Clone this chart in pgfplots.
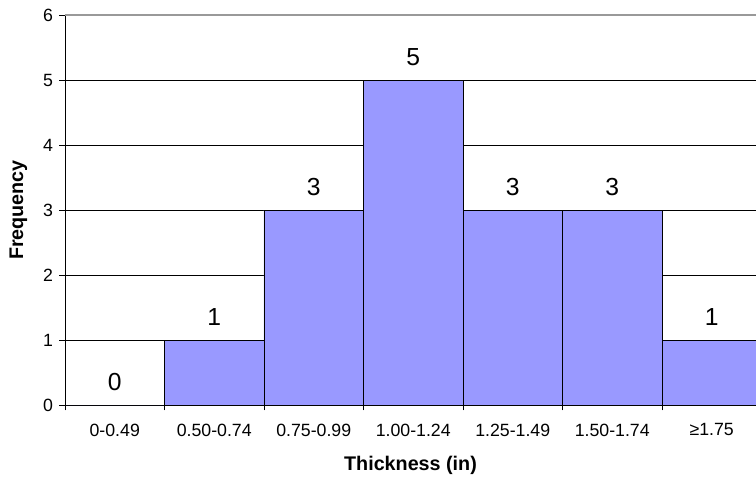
\documentclass[border=0pt]{standalone}
\usepackage{pgfplots}
\pgfplotsset{compat=1.18}
\usepackage{fontspec}
\setmainfont{Liberation Sans}
\definecolor{barblue}{HTML}{9999FF}
\begin{document}
\begin{tikzpicture}
\useasboundingbox (-48.75pt,-55.5pt) rectangle (518.25pt,303.75pt);
\begin{axis}[
    at={(0,0)}, anchor=origin,
    scale only axis,
    width=518.25pt, height=292.5pt,
    ybar, bar width=1,
    xmin=0, xmax=6.945,
    ymin=0, ymax=6,
    axis lines*=left,
    axis line style={black},
    xtick={0.5,1.5,...,6.5},
    xticklabels={0-0.49, 0.50-0.74, 0.75-0.99, 1.00-1.24, 1.25-1.49, 1.50-1.74, {≥1.75}},
    minor xtick={0,1,...,7},
    major x tick style={draw=none},
    minor tick length=4pt,
    ytick={0,...,5},
    extra y ticks={6},
    extra y tick style={grid style={gray!80, line width=1.2pt}},
    major tick length=4.5pt,
    tick align=outside,
    tick style={black, thin},
    ymajorgrids,
    grid style={black, thin},
    tick label style={font=\fontsize{13.3pt}{15pt}\selectfont},
    /pgf/number format/assume math mode=true,
    xticklabel style={yshift=-6pt},
    yticklabel style={xshift=-1pt},
    xlabel={\textbf{Thickness (in)}},
    ylabel={\textbf{Frequency}},
    label style={font=\fontsize{14.8pt}{17pt}\selectfont},
    xlabel style={at={(axis description cs:0.5,0)}, anchor=center, yshift=-45pt},
    ylabel style={at={([xshift=-35pt]axis description cs:0,0.5)}, anchor=center},
    nodes near coords,
    nodes near coords style={font=\fontsize{18.5pt}{20pt}\selectfont, black, anchor=south, yshift=7pt},
]
\addplot[fill=barblue, draw=black, thin] coordinates {
    (0.5,0) (1.5,1) (2.5,3) (3.5,5) (4.5,3) (5.5,3) (6.5,1)
};
\end{axis}
\end{tikzpicture}
\end{document}
